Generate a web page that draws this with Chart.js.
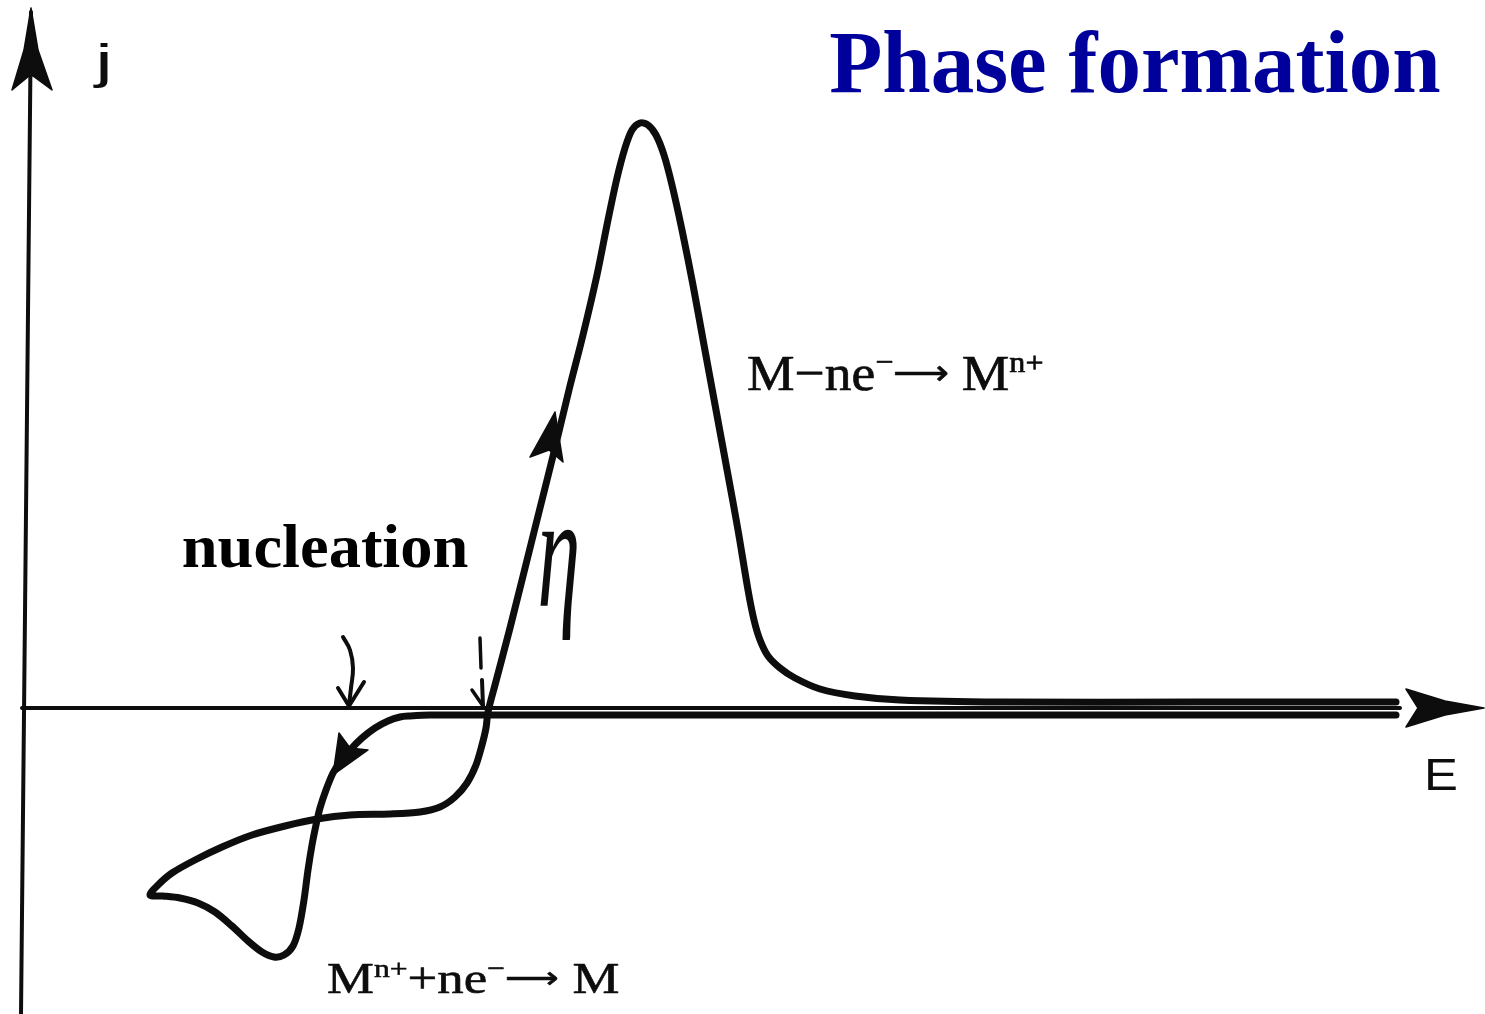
<!DOCTYPE html>
<html>
<head>
<meta charset="utf-8">
<title>Phase formation</title>
<script src="https://cdn.jsdelivr.net/npm/chart.js@4.4.1/dist/chart.umd.min.js"></script>
<style>
  html, body { margin: 0; padding: 0; background: #ffffff; }
  #wrap { width: 1485px; height: 1014px; position: relative; }
</style>
</head>
<body>
<div id="wrap"><canvas id="cv"></canvas></div>
<script>
// Cyclic voltammogram of metal deposition / stripping (arbitrary units).
// Scan path: negative sweep along the baseline, nucleation loop, then the anodic stripping peak.
const scanE = [137.4, 117.8, 97.8, 77.8, 57.8, 47.8, 40.8, 38.8, 37.8, 36.6, 35.3, 34.0, 32.8, 31.8, 31.1,
  30.4, 29.8, 29.4, 29.0, 28.6, 28.2, 27.7, 27.1, 26.2, 25.2, 24.0, 22.6, 21.0, 19.3, 17.6, 15.8, 14.1, 12.8,
  13.6, 15.0, 17.3, 20.0, 23.0, 26.3, 29.5, 32.8, 36.8, 39.8, 41.8, 43.3, 44.5, 45.4, 46.0, 46.4, 46.6,
  47.3, 48.8, 51.5, 53.3, 54.7, 56.1, 57.5, 58.6, 59.5, 60.3, 61.0, 61.8, 62.6, 63.4, 64.2, 65.0, 66.0,
  67.1, 68.2, 69.4, 70.6, 71.6, 72.6, 73.2, 73.8, 74.6, 75.8, 77.3, 79.8, 83.3, 87.8, 97.8, 117.8, 137.4];
const scanJ = [-0.7, -0.7, -0.7, -0.7, -0.7, -0.7, -0.7, -0.8, -0.9, -1.3, -2.0, -3.0, -4.2, -5.4, -6.5,
  -8.2, -10.0, -11.7, -13.7, -16.2, -19.2, -22.0, -23.8, -24.7, -24.9, -24.4, -23.3, -21.8, -20.4, -19.5, -19.0, -18.8, -18.7,
  -17.7, -16.5, -15.2, -13.9, -12.7, -11.8, -11.1, -10.7, -10.6, -10.4, -9.9, -8.9, -7.5, -5.7, -3.7, -2.0, -0.4,
  2.3, 8.0, 18.8, 26.0, 31.8, 37.3, 43.3, 48.8, 53.0, 56.0, 57.8, 58.5, 58.3, 57.3, 55.3, 52.3, 47.8,
  42.3, 36.3, 29.8, 23.3, 17.8, 11.8, 8.8, 6.8, 5.2, 4.0, 3.0, 1.9, 1.2, 0.8, 0.6, 0.6, 0.6];

// Direction marks on the scan
const sweepDownE = [31.1, 31.7, 32.8, 34.6, 31.1];
const sweepDownJ = [-6.7, -2.5, -4.0, -4.2, -6.7];
const sweepUpE = [53.3, 50.8, 52.7, 54.1, 53.3];
const sweepUpJ = [29.6, 25.1, 25.8, 24.6, 29.6];

// Axes (E horizontal, j vertical)
const jAxisE = [-0.1, 0.9];
const jAxisJ = [-30.6, 69.6];
const jHeadE = [0.9, 1.6, 3.0, 1.1, 0.7, -1.0, 0.2, 0.9];
const jHeadJ = [70.0, 65.8, 61.8, 63.2, 63.2, 61.8, 65.8, 70.0];
const eAxisE = [0.0, 137.8];
const eAxisJ = [0.0, 0.0];
const eHeadE = [146.2, 142.3, 138.4, 139.6, 138.4, 142.3, 146.2];
const eHeadJ = [0.0, 0.7, 1.9, 0.0, -1.9, -0.7, 0.0];

// Pointer to the nucleation potential
const nucStemE = [32.1, 32.8, 33.1, 32.9, 32.7];
const nucStemJ = [7.1, 5.8, 4.0, 2.0, 0.3];
const nucTipE = [31.6, 32.7, 34.2];
const nucTipJ = [2.0, 0.2, 2.6];
// Pointer to the equilibrium crossing
const eqStemAE = [45.8, 45.9];
const eqStemAJ = [7.0, 4.0];
const eqStemBE = [46.0, 46.1];
const eqStemBJ = [2.8, 0.2];
const eqTipE = [45.0, 46.1];
const eqTipJ = [1.8, 0.2];

const pts = (xs, ys) => xs.map((x, i) => ({ x, y: ys[i] }));

const INK = '#0d0d0d';
const SERIF = '"Liberation Serif", "Times New Roman", serif';
const SANS = '"Liberation Sans", Arial, sans-serif';

// Text annotations; boxes are [E left, j top, E right, j bottom]
const labels = [
  { runs: [{ t: 'Phase formation' }], box: [80.8, 67.9, 141.8, 61.5], family: SERIF, weight: 'bold', color: '#00009a' },
  { runs: [{ t: 'j' }], box: [7.1, 66.5, 8.6, 62.0], family: SANS, color: INK },
  { runs: [{ t: 'E' }], box: [140.6, -5.2, 143.4, -8.2], family: SANS, color: INK },
  { runs: [{ t: 'M' }, { t: '−' }, { t: 'ne' }, { t: '−', sup: true }, { t: '⟶', size: 0.72, rise: 0.1 }, { t: ' M' }, { t: 'n+', sup: true }],
    box: [72.6, 35.3, 102.0, 31.7], family: SERIF, color: INK, stroke: 1.3 },
  { runs: [{ t: 'M' }, { t: 'n+', sup: true }, { t: '+ne' }, { t: '−', sup: true }, { t: '⟶', size: 0.72, rise: 0.1 }, { t: ' M' }],
    box: [30.6, -25.4, 59.6, -28.5], family: SERIF, color: INK, stroke: 1.3 },
  { runs: [{ t: 'nucleation' }], box: [16.1, 18.3, 44.6, 14.0], family: SERIF, weight: 'bold', color: '#000000' },
  { runs: [{ t: 'η' }], box: [51.8, 17.8, 55.5, 6.8], family: SERIF, style: 'italic', color: INK }
];

function fitRuns(ctx, lab, x0, y0, x1, y1) {
  const base = 100;
  let pen = 0, top = Infinity, bottom = -Infinity, left = null, right = -Infinity;
  const laid = lab.runs.map(r => {
    const size = base * (r.sup ? 0.6 : (r.size || 1));
    const shift = r.sup ? -base * 0.36 : -base * (r.rise || 0);
    const font = `${lab.style || 'normal'} ${lab.weight || 'normal'} ${size}px ${lab.family}`;
    ctx.font = font;
    const m = ctx.measureText(r.t);
    if (left === null) left = pen - m.actualBoundingBoxLeft;
    right = Math.max(right, pen + m.actualBoundingBoxRight);
    top = Math.min(top, shift - m.actualBoundingBoxAscent);
    bottom = Math.max(bottom, shift + m.actualBoundingBoxDescent);
    const item = { t: r.t, font, x: pen, y: shift };
    pen += m.width;
    return item;
  });
  const sx = (x1 - x0) / (right - left);
  const sy = (y1 - y0) / (bottom - top);
  ctx.save();
  ctx.translate(x0 - left * sx, y0 - top * sy);
  ctx.scale(sx, sy);
  ctx.fillStyle = lab.color;
  ctx.strokeStyle = lab.color;
  ctx.lineJoin = 'round';
  ctx.textAlign = 'left';
  ctx.textBaseline = 'alphabetic';
  laid.forEach(it => {
    ctx.font = it.font;
    ctx.fillText(it.t, it.x, it.y);
    if (lab.stroke) { ctx.lineWidth = lab.stroke; ctx.strokeText(it.t, it.x, it.y); }
  });
  ctx.restore();
}

const textPlugin = {
  id: 'sketchText',
  afterDatasetsDraw(chart) {
    const { ctx, scales } = chart;
    labels.forEach(lab => {
      const [e0, j0, e1, j1] = lab.box;
      fitRuns(ctx, lab,
        scales.x.getPixelForValue(e0), scales.y.getPixelForValue(j0),
        scales.x.getPixelForValue(e1), scales.y.getPixelForValue(j1));
    });
  }
};

const line = (xs, ys, width, extra = {}) => Object.assign({
  data: pts(xs, ys),
  showLine: true,
  borderColor: INK,
  borderWidth: width,
  borderCapStyle: 'round',
  borderJoinStyle: 'round',
  pointRadius: 0,
  tension: 0,
  fill: false
}, extra);

const head = (xs, ys) => line(xs, ys, 1.5, { fill: 'shape', backgroundColor: INK });

new Chart(document.getElementById('cv'), {
  type: 'scatter',
  data: {
    datasets: [
      line(eAxisE, eAxisJ, 4),
      line(jAxisE, jAxisJ, 4),
      head(jHeadE, jHeadJ),
      head(eHeadE, eHeadJ),
      line(scanE, scanJ, 7, { tension: 0.3 }),
      head(sweepDownE, sweepDownJ),
      head(sweepUpE, sweepUpJ),
      line(nucStemE, nucStemJ, 4, { tension: 0.4 }),
      line(nucTipE, nucTipJ, 4),
      line(eqStemAE, eqStemAJ, 3.5),
      line(eqStemBE, eqStemBJ, 4),
      line(eqTipE, eqTipJ, 3.5)
    ]
  },
  options: {
    responsive: true,
    maintainAspectRatio: false,
    animation: false,
    events: [],
    layout: { padding: 0 },
    plugins: { legend: { display: false }, tooltip: { enabled: false }, title: { display: false } },
    scales: {
      x: { type: 'linear', min: -2.2, max: 146.3, display: false },
      y: { type: 'linear', min: -30.6, max: 70.8, display: false }
    }
  },
  plugins: [textPlugin]
});
</script>
</body>
</html>
